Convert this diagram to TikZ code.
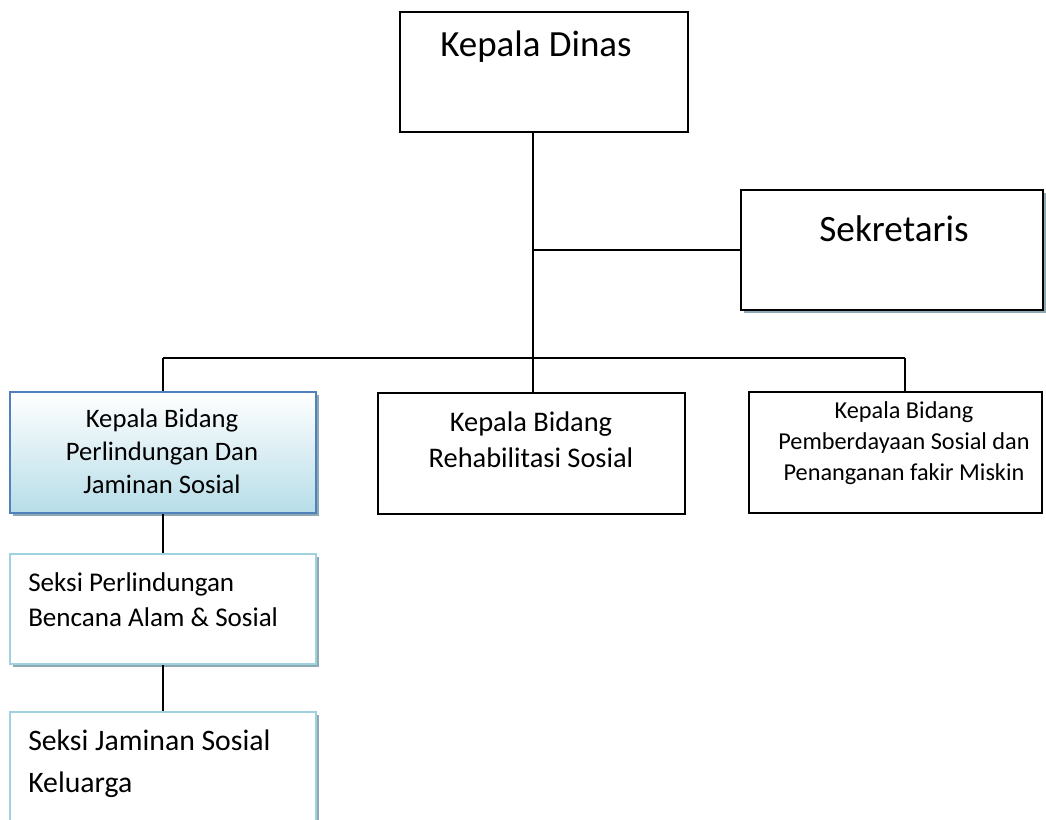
\documentclass[tikz,border=0pt]{standalone}
\usepackage{fontspec}
\setmainfont{Carlito}
\usetikzlibrary{fit,shadows}
\definecolor{bidangline}{HTML}{4F81BD}
\definecolor{bidangfill}{HTML}{B7DDE8}
\definecolor{seksiline}{HTML}{9FD2DF}
\definecolor{shadowgray}{HTML}{8FA9B4}
\newcommand{\fsz}[2]{\fontsize{#1}{#2}\selectfont}

\begin{document}
\begin{tikzpicture}[x=0.75pt, y=-0.75pt,
  box/.style={draw, line width=1.1pt, inner sep=0pt, fill=white},
  shadowed/.style={drop shadow={shadow xshift=2.6pt, shadow yshift=-2.6pt, fill=shadowgray, opacity=1}},
  bidang/.style={draw=bidangline, line width=1.5pt, inner sep=0pt, top color=white, bottom color=bidangfill, shadowed},
  seksi/.style={draw=seksiline, line width=1.5pt, inner sep=0pt, fill=white, shadowed},
  link/.style={line width=1.1pt},
  thicklink/.style={line width=2pt}]
\useasboundingbox (0,0) rectangle (1046,820);
\clip (0,0) rectangle (1046,820);

\node[box, fit={(400,12) (688,132)}] (dinas) {};
\node[box, shadowed, fit={(741,190) (1043,310)}] (sekretaris) {};
\node[bidang, fit={(10,392) (316,513)}] (perlindungan) {};
\node[box, fit={(378,393) (685,514)}] (rehab) {};
\node[box, fit={(749,392) (1042,513)}] (pemberdayaan) {};
\node[seksi, fit={(10,554) (316,664)}] (bencana) {};
\node[seksi, fit={(10,712) (316,850)}] (jaminan) {};

% labels (base = last line)
\node[anchor=base, font=\fsz{27.7}{32}] (dinaslabel) at (536,57) {Kepala Dinas};
\node[anchor=base, font=\fsz{27.9}{32}] (sekretarislabel) at (894,241) {Sekretaris};
\node[anchor=base, align=center, font=\fsz{20}{24.75}] (perlindunganlabel) at (162,493)
  {Kepala Bidang\\Perlindungan Dan\\Jaminan Sosial};
\node[anchor=base, align=center, font=\fsz{21.3}{27}] (rehablabel) at (531,467)
  {Kepala Bidang\\Rehabilitasi Sosial};
\node[anchor=base, align=center, font=\fsz{18.2}{23.25}] (pemberdayaanlabel) at (904,480)
  {Kepala Bidang\\Pemberdayaan Sosial dan\\Penanganan fakir Miskin};
\node[anchor=base west, align=left, font=\fsz{20.3}{26.25}, inner sep=0pt] (bencanalabel) at (28,626)
  {Seksi Perlindungan\\Bencana Alam \& Sosial};
\node[anchor=base west, align=left, font=\fsz{22.3}{31.5}, inner sep=0pt] (jaminanlabel) at (28,792)
  {Seksi Jaminan Sosial\\Keluarga};

% connectors
\coordinate (bus) at (533,358);
\coordinate (busleft) at (perlindungan.north |- bus);
\coordinate (busright) at (905,358);
\draw[link] (dinas.south -| bus) -- (bus);
\draw[link] (bus |- sekretaris.west) -- (sekretaris.west);
\draw[link] (busleft) -- (busright);
\draw[link] (busleft) -- (perlindungan.north);
\draw[link] (bus) -- (bus |- rehab.north);
\draw[link] (busright) -- (busright |- pemberdayaan.north);
\draw[thicklink] (perlindungan) -- (bencana);
\draw[thicklink] (bencana) -- (jaminan);

\end{tikzpicture}
\end{document}
